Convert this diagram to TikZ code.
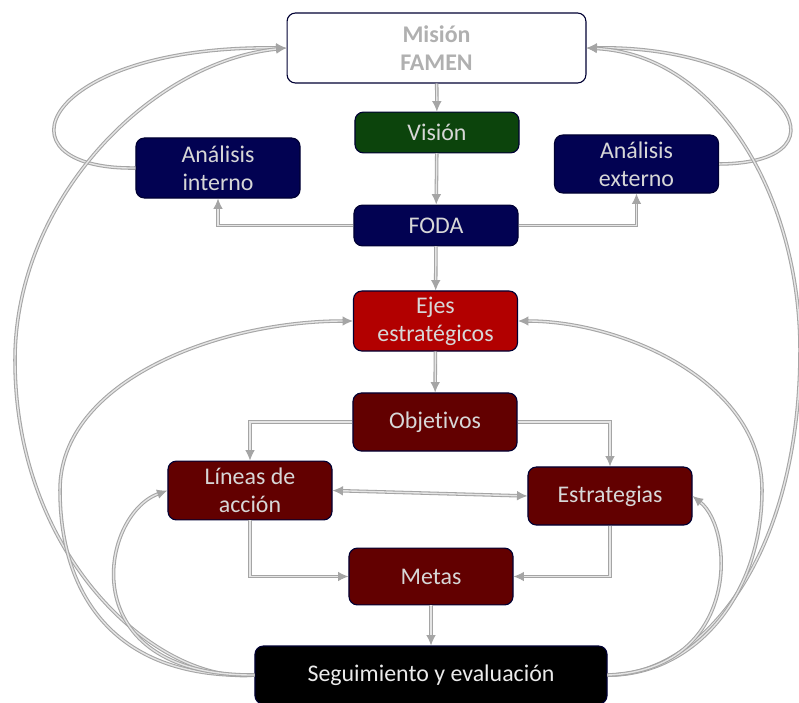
\documentclass[tikz,border=0pt]{standalone}
\usepackage{fontspec}
\setmainfont{Carlito}[Ligatures=NoCommon]
\usepackage{tikz}
\usetikzlibrary{arrows.meta}

\definecolor{VisionGreen}{RGB}{12,68,12}
\definecolor{FodaNavy}{RGB}{2,2,82}
\definecolor{EjesRed}{RGB}{178,0,0}
\definecolor{ObjMaroon}{RGB}{98,0,0}
\definecolor{LinkGray}{RGB}{165,165,165}
\definecolor{BoxText}{RGB}{215,215,215}

\begin{document}
\begin{tikzpicture}[
x=0.025cm, y=-0.025cm,
box/.style={draw=black!80!blue, line width=0.8pt, rounded corners=6pt, minimum width=4.1cm, minimum height=1.5cm, inner sep=0pt, align=center, text=BoxText, font=\fontsize{17}{20}\selectfont},
flat/.style={box, minimum height=1.02cm},
arrow/.style={-{Latex[length=2.6mm, width=2.4mm]}, draw=LinkGray, double=gray!20, line width=0.75pt, double distance=1pt},
twoway/.style={arrow, {Latex[length=2.6mm, width=2.4mm]}-{Latex[length=2.6mm, width=2.4mm]}}
]
\useasboundingbox[fill=white] (0,0) rectangle (799,702);

% main chain
\node[box, fill=white, minimum width=7.47cm, minimum height=1.75cm, text=gray!62, font=\fontsize{17}{20}\selectfont\bfseries] (mision) at (436.5,48) {Misión\\FAMEN};
\node[flat, fill=VisionGreen] (vision) at (437,132.5) {Visión};
\node[box, fill=FodaNavy] (aint) at (218,168) {Análisis\\interno};
\node[box, fill=FodaNavy, minimum height=1.45cm] (aext) at (636.5,164) {Análisis\\externo};
\node[flat, fill=FodaNavy] (foda) at (436,225.5) {FODA};
\node[box, fill=EjesRed] (ejes) at (435.5,321) {Ejes\\estratégicos};
\node[box, fill=ObjMaroon, minimum height=1.45cm] (obj) at (435,422) {Objetivos};
\node[box, fill=ObjMaroon, minimum height=1.47cm] (lineas) at (250,490.5) {Líneas de\\acción};
\node[box, fill=ObjMaroon, minimum height=1.45cm] (estr) at (610,496) {Estrategias};
\node[box, fill=ObjMaroon, minimum height=1.42cm] (metas) at (431,576.5) {Metas};
\node[box, fill=black, text=white!92!black, minimum width=8.8cm, minimum height=1.45cm] (seg) at (431,675) {Seguimiento y evaluación};

% straight links
\draw[arrow] (mision) -- (vision);
\draw[arrow] (vision) -- (foda);
\draw[arrow] (foda) -- (ejes);
\draw[arrow] (ejes) -- (obj);
\draw[arrow] (metas) -- (seg);
\draw[arrow] (foda.west) -| (aint.south);
\draw[arrow] (foda.east) -| (aext.south);
\draw[arrow] (obj.west) -| (lineas.north);
\draw[arrow] (obj.east) -| (estr.north);
\draw[arrow] (lineas.south) |- (metas.west);
\draw[arrow] (estr.south) |- (metas.east);
\draw[twoway] (lineas.east) -- (estr.west);

% feedback loops
\draw[arrow] (aint.west) .. controls (-10,170) and (40,45) .. (mision.west);
\draw[arrow] (aext.east) .. controls (860,163) and (780,45) .. (mision.east);
\draw[arrow] (seg.west) .. controls (160,685) and (15,560) .. (15,360) .. controls (15,200) and (150,62) .. (mision.west);
\draw[arrow] (seg.west) .. controls (120,680) and (60,600) .. (60,490) .. controls (60,380) and (220,321) .. (ejes.west);
\draw[arrow] (seg.west) .. controls (70,676) and (100,515) .. (lineas.west);
\draw[arrow] (seg.east) .. controls (700,676) and (800,560) .. (800,350) .. controls (800,200) and (720,55) .. (mision.east);
\draw[arrow] (seg.east) .. controls (690,676) and (762,600) .. (762,490) .. controls (762,380) and (620,321) .. (ejes.east);
\draw[arrow] (seg.east) .. controls (740,670) and (735,530) .. (estr.east);
\end{tikzpicture}
\end{document}
